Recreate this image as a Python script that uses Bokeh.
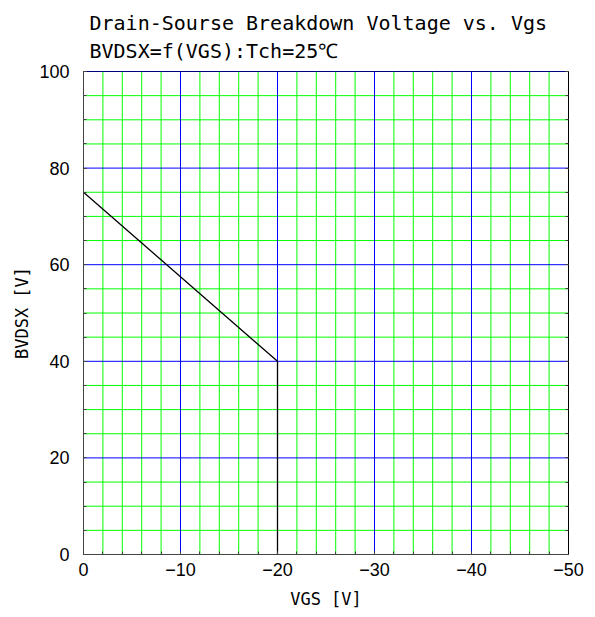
from bokeh.plotting import figure
from bokeh.models import Range1d, FixedTicker, LinearAxis, Title, CustomJSTickFormatter
from bokeh.embed import file_html
from bokeh.resources import INLINE

# data
vgs = [0, -20, -20]
bvdsx = [75, 40, 0]

x_major = [0, -10, -20, -30, -40, -50]
x_minor = list(range(0, -51, -2))
y_major = [0, 20, 40, 60, 80, 100]
y_minor = list(range(0, 101, 5))

title1 = "Drain-Sourse Breakdown Voltage vs. Vgs"
title2 = "BVDSX=f(VGS):Tch=25\u2103"
xlabel = "VGS [V]"
ylabel = "BVDSX [V]"

mono = "DejaVu Sans Mono"
sans = "Liberation Sans"

x_lo, x_hi = 0, -50
y_lo, y_hi = 0, 100

p = figure(width=595, height=617, output_backend="svg", toolbar_location=None,
           x_range=Range1d(x_lo, x_hi), y_range=Range1d(y_lo, y_hi),
           frame_width=485, frame_height=483,
           min_border_left=83, min_border_right=27, min_border_top=71, min_border_bottom=63)
p.background_fill_color = "white"
p.border_fill_color = "white"
p.outline_line_color = "black"
p.outline_line_width = 1
p.grid.visible = False

xt = FixedTicker(ticks=x_major, minor_ticks=x_minor)
yt = FixedTicker(ticks=y_major, minor_ticks=y_minor)
p.xaxis.ticker = xt
p.yaxis.ticker = yt
fmt = CustomJSTickFormatter(code="return tick < 0 ? '\u2212' + Math.abs(tick) : String(tick);")
p.xaxis.formatter = fmt

for ax in (p.xaxis[0], p.yaxis[0]):
    ax.axis_line_color = "#444444"
    ax.major_tick_in = 3
    ax.major_tick_out = 0
    ax.minor_tick_in = 3
    ax.minor_tick_out = 0
    ax.major_tick_line_color = "#444444"
    ax.minor_tick_line_color = "#444444"
    ax.major_label_text_font = sans
    ax.major_label_text_font_size = "18px"
    ax.major_label_text_color = "black"
    ax.axis_label_text_font = mono
    ax.axis_label_text_font_size = "17px"
    ax.axis_label_text_font_style = "normal"
    ax.axis_label_text_color = "black"

p.xaxis.axis_label = xlabel
p.yaxis.axis_label = ylabel
p.xaxis.major_label_standoff = 8
p.yaxis.major_label_standoff = 14
p.xaxis.axis_label_standoff = 10
p.yaxis.axis_label_standoff = 4

# right axis with inward ticks, no labels
ra = LinearAxis(ticker=FixedTicker(ticks=y_major, minor_ticks=y_minor))
ra.major_label_text_color = None
ra.axis_line_color = "black"
ra.major_tick_in = 3
ra.major_tick_out = 0
ra.minor_tick_in = 3
ra.minor_tick_out = 0
ra.major_tick_line_color = "#444444"
ra.minor_tick_line_color = "#444444"
p.add_layout(ra, "right")

# grid lines drawn from tick lists
xm = [v for v in x_minor if v not in x_major]
ym = [v for v in y_minor if v not in y_major]
p.segment(x0=xm, y0=[y_lo] * len(xm), x1=xm, y1=[y_hi] * len(xm), line_color="#00ff00", line_width=1)
p.segment(x0=[x_lo] * len(ym), y0=ym, x1=[x_hi] * len(ym), y1=ym, line_color="#00ff00", line_width=1)
p.segment(x0=x_major, y0=[y_lo] * len(x_major), x1=x_major, y1=[y_hi] * len(x_major), line_color="#0000ff", line_width=1)
p.segment(x0=[x_lo] * len(y_major), y0=y_major, x1=[x_hi] * len(y_major), y1=y_major, line_color="#0000ff", line_width=1)

p.line(vgs, bvdsx, line_color="black", line_width=1.3)

t = Title(text=title1 + "\n" + title2, text_font=mono, text_font_size="20px", text_font_style="normal",
          text_color="black", align="left", offset=6, standoff=16, text_line_height=1.2)
p.add_layout(t, "above")

open("out.html", "w").write(file_html(p, INLINE))
